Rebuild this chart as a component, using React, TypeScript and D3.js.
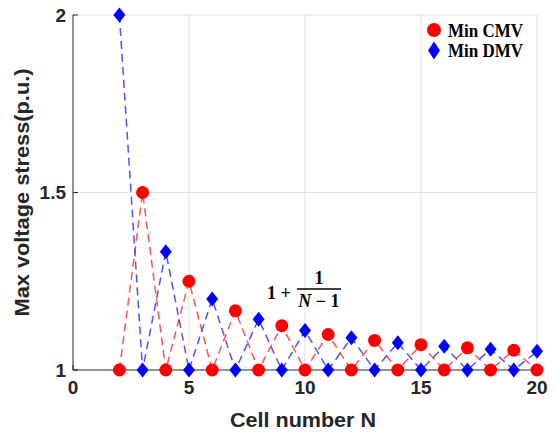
import React, { useEffect, useRef } from "react";
import * as d3 from "d3";

const cells = [2, 3, 4, 5, 6, 7, 8, 9, 10, 11, 12, 13, 14, 15, 16, 17, 18, 19, 20];
const minCMV = [1, 1.5, 1, 1.25, 1, 1.1667, 1, 1.125, 1, 1.1, 1, 1.0833, 1, 1.0714, 1, 1.0625, 1, 1.0556, 1];
const minDMV = [2, 1, 1.3333, 1, 1.2, 1, 1.1429, 1, 1.1111, 1, 1.0909, 1, 1.0769, 1, 1.0667, 1, 1.0588, 1, 1.0526];
const xTicks = [0, 5, 10, 15, 20];
const yTicks = [1, 1.5, 2];
const legendLabels = ["Min CMV", "Min DMV"];

export default function App() {
  const ref = useRef<SVGSVGElement>(null);
  useEffect(() => {
    const svg = d3.select(ref.current);
    svg.selectAll("*").remove();
    const L = 73, R = 537, T = 15, B = 370;
    const x = d3.scaleLinear().domain([0, 20]).range([L, R]);
    const y = d3.scaleLinear().domain([1, 2]).range([B, T]);
    const grid = "#e3e3e3";
    const sans = "Liberation Sans, Arial, sans-serif";
    const serif = "Liberation Serif, Times New Roman, serif";
    xTicks.filter((t) => t > 0).forEach((t) => {
      svg.append("line").attr("x1", x(t)).attr("x2", x(t)).attr("y1", T).attr("y2", B)
        .attr("stroke", grid).attr("stroke-width", 1);
    });
    yTicks.filter((t) => t > 1).forEach((t) => {
      svg.append("line").attr("x1", L).attr("x2", R).attr("y1", y(t)).attr("y2", y(t))
        .attr("stroke", grid).attr("stroke-width", 1);
    });
    const axisCol = "#262626";
    svg.append("line").attr("x1", L).attr("x2", L).attr("y1", T).attr("y2", B).attr("stroke", axisCol).attr("stroke-width", 1);
    svg.append("line").attr("x1", L).attr("x2", R).attr("y1", B).attr("y2", B).attr("stroke", axisCol).attr("stroke-width", 1);
    xTicks.forEach((t) => {
      svg.append("line").attr("x1", x(t)).attr("x2", x(t)).attr("y1", B).attr("y2", B - 5).attr("stroke", axisCol);
      svg.append("text").attr("x", x(t)).attr("y", B + 24).attr("text-anchor", "middle")
        .attr("font-family", sans).attr("font-weight", "bold")
        .attr("font-size", 19).attr("fill", "#262626").text(String(t));
    });
    yTicks.forEach((t) => {
      svg.append("line").attr("x1", L).attr("x2", L + 5).attr("y1", y(t)).attr("y2", y(t)).attr("stroke", axisCol);
      svg.append("text").attr("x", L - 7).attr("y", y(t)).attr("dy", "0.35em").attr("text-anchor", "end")
        .attr("font-family", sans).attr("font-weight", "bold")
        .attr("font-size", 19).attr("fill", "#262626").text(String(t));
    });
    svg.append("text").attr("x", (L + R) / 2 - 2).attr("y", 427).attr("text-anchor", "middle")
      .attr("font-family", sans).attr("font-weight", "bold")
      .attr("font-size", 20).attr("textLength", 146).attr("lengthAdjust", "spacingAndGlyphs")
      .attr("fill", "#262626").text("Cell number N");
    svg.append("text").attr("transform", `translate(22,${(T + B) / 2}) rotate(-90)`)
      .attr("text-anchor", "middle").attr("dy", "0.35em")
      .attr("font-family", sans).attr("font-weight", "bold")
      .attr("font-size", 20).attr("textLength", 248).attr("lengthAdjust", "spacingAndGlyphs")
      .attr("fill", "#262626").text("Max voltage stress(p.u.)");

    const line = d3.line<number>().x((_, i) => x(cells[i])).y((d) => y(d));
    svg.append("path").attr("d", line(minCMV)).attr("fill", "none").attr("stroke", "#ff3333")
      .attr("stroke-width", 1.5).attr("stroke-dasharray", "8,5").attr("opacity", 0.85);
    svg.append("path").attr("d", line(minDMV)).attr("fill", "none").attr("stroke", "#3333ff")
      .attr("stroke-width", 1.5).attr("stroke-dasharray", "8,5").attr("opacity", 0.85);

    const diamond = (cx: number, cy: number, w: number, h: number) =>
      `M${cx},${cy - h}L${cx + w},${cy}L${cx},${cy + h}L${cx - w},${cy}Z`;
    minDMV.forEach((v, i) => {
      svg.append("path").attr("d", diamond(x(cells[i]), y(v), 6, 7.5)).attr("fill", "#0000ff");
    });
    minCMV.forEach((v, i) => {
      svg.append("circle").attr("cx", x(cells[i])).attr("cy", y(v)).attr("r", 6.5).attr("fill", "#ff0000");
    });

    const lg = svg.append("g");
    lg.append("circle").attr("cx", 434).attr("cy", 30).attr("r", 7).attr("fill", "#ff0000");
    lg.append("path").attr("d", diamond(434, 50.5, 6, 9)).attr("fill", "#0000ff");
    legendLabels.forEach((lab, i) => {
      lg.append("text").attr("x", 448).attr("y", 31 + i * 20).attr("dy", "0.35em")
        .attr("font-family", serif).attr("font-weight", "bold")
        .attr("font-size", 18).attr("textLength", 75).attr("lengthAdjust", "spacingAndGlyphs")
        .attr("fill", "#000").text(lab);
    });

    const ag = svg.append("g").attr("font-family", serif)
      .attr("font-weight", "bold").attr("fill", "#000");
    ag.append("text").attr("x", 267).attr("y", 299).attr("font-size", 18).text("1 +");
    ag.append("text").attr("x", 319).attr("y", 284).attr("text-anchor", "middle").attr("font-size", 18).text("1");
    ag.append("line").attr("x1", 297).attr("x2", 341).attr("y1", 289).attr("y2", 289).attr("stroke", "#000").attr("stroke-width", 1.4);
    const den = ag.append("text").attr("x", 319).attr("y", 307).attr("text-anchor", "middle").attr("font-size", 18);
    den.append("tspan").attr("font-style", "italic").text("N");
    den.append("tspan").text(" − 1");
  }, []);
  return (
    <svg ref={ref} width={555} height={435} style={{ position: "absolute", left: 0, top: 0, background: "#fff" }} />
  );
}
